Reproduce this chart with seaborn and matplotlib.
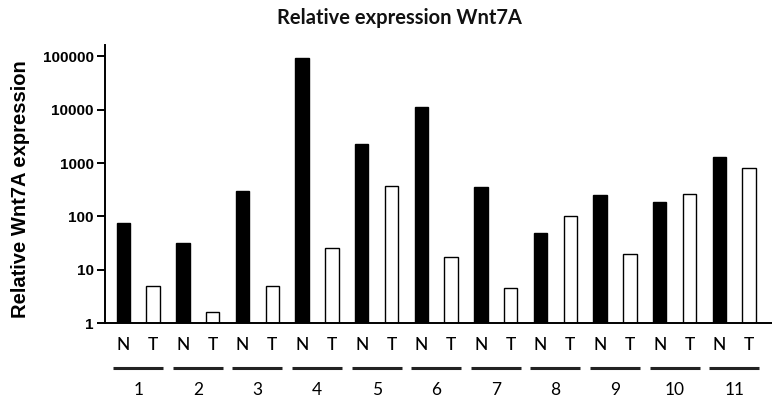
"""Relative expression of Wnt7A, normal (N) vs tumour (T), log scale bar chart."""

import matplotlib
matplotlib.use('Agg')
import matplotlib.pyplot as plt
import matplotlib.transforms as mtransforms
import pandas as pd
import seaborn as sns

# values
samples = ['1', '2', '3', '4', '5', '6', '7', '8', '9', '10', '11']
normal_vals = [76, 32, 300, 94000, 2280, 11400, 360, 49, 250, 190, 1280]
tumour_vals = [5.0, 1.65, 5.0, 26, 370, 17.4, 4.6, 102, 20, 264, 820]
tissue_labels = ['N', 'T']
ytick_vals = [1, 10, 100, 1000, 10000, 100000]

df = pd.DataFrame({
    'sample': samples * 2,
    'tissue': ['N'] * len(samples) + ['T'] * len(samples),
    'value': normal_vals + tumour_vals,
})

sns.set_theme(style='white')
plt.rcParams['font.family'] = ['Liberation Sans', 'DejaVu Sans']

fig = plt.figure(figsize=(7.72, 4.01), dpi=100)
ax = fig.add_axes([0.136, 0.194, 0.864, 0.694])

sns.barplot(df, x='sample', y='value', hue='tissue', order=samples,
            hue_order=tissue_labels, palette={'N': 'black', 'T': 'white'},
            width=1.0, gap=0.55, edgecolor='black', linewidth=1.0,
            errorbar=None, legend=False, ax=ax, log_scale=True)

ax.set_yscale('log')
ax.set_ylim(1, 163000)
ax.set_xlim(-0.557, 10.634)
ax.set_yticks(ytick_vals)
ax.set_yticklabels([str(v) for v in ytick_vals], fontweight='bold', fontsize=11)
ax.minorticks_off()
ax.tick_params(axis='y', direction='out', length=6, width=1.4, left=True,
               colors='black', pad=2)
ax.tick_params(axis='x', bottom=False, labelbottom=False)
ax.set_xlabel('')
ax.set_ylabel('Relative Wnt7A expression', fontweight='bold', fontsize=14.5,
              color='black')
ax.yaxis.set_label_coords(-0.113, 0.483)
for side in ['top', 'right']:
    ax.spines[side].set_visible(False)
for side in ['left', 'bottom']:
    ax.spines[side].set_color('black')
    ax.spines[side].set_linewidth(1.4)

# N / T letters, group underlines, and sample numbers below the axis
trans = mtransforms.blended_transform_factory(ax.transData, ax.transAxes)
for i, s in enumerate(samples):
    for j, lab in enumerate(tissue_labels):
        ax.text(i - 0.25 + 0.5 * j, -0.078, lab, transform=trans,
                ha='center', va='center', fontsize=12.5, family='Lato',
                fontweight='medium', color='black')
    ax.plot([i - 0.42, i + 0.42], [-0.161, -0.161], transform=trans,
            color='#222222', lw=2.2, clip_on=False, solid_capstyle='butt')
    ax.text(i, -0.24, s, transform=trans, ha='center', va='center',
            fontsize=12.5, family='Lato', color='black')

fig.text(0.517, 0.955, 'Relative expression Wnt7A', ha='center', va='center',
         fontsize=14.5, fontweight='bold', family='Lato', color='#111111')

plt.savefig('out.png', dpi=100)
